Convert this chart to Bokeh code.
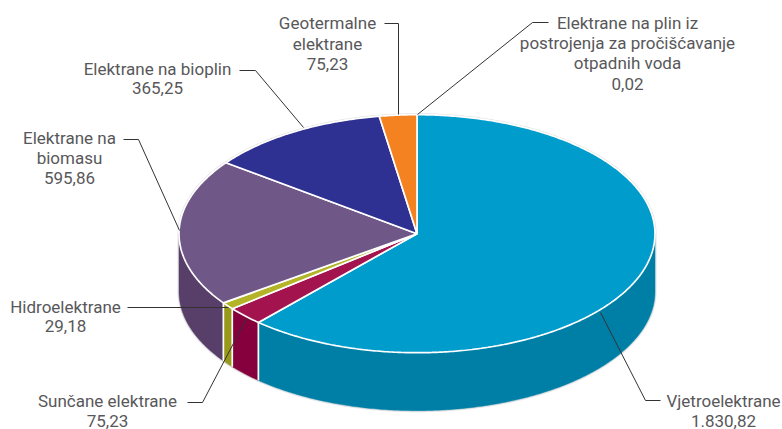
import numpy as np
from bokeh.plotting import figure
from bokeh.models import Range1d
from bokeh.core.properties import value
from bokeh.embed import file_html
from bokeh.resources import INLINE

names = ["Vjetroelektrane", "Sunčane elektrane", "Hidroelektrane", "Elektrane na biomasu",
         "Elektrane na bioplin", "Geotermalne elektrane",
         "Elektrane na plin iz postrojenja za pročišćavanje otpadnih voda"]
values = [1830.82, 75.23, 29.18, 595.86, 365.25, 75.23, 0.02]
top_colors = ["#009dcc", "#a3144f", "#b4b428", "#6f5788", "#2e3192", "#f58220", "#f58220"]
side_colors = ["#007fa6", "#85003c", "#98981a", "#573f69", "#232675", "#c96a15", "#c96a15"]

W, H = 782, 429
CX, CY, RX, RY, DEPTH = 416.5, 233.2, 238.0, 119.0, 58.0
FONT = "Roboto"
FS = "17px"
TEXT = "#58585a"
LINE = "#333333"

p = figure(width=W, height=H, output_backend="svg", toolbar_location=None,
           x_range=Range1d(0, W), y_range=Range1d(H, 0),
           min_border=0, outline_line_color=None, background_fill_color="white")
p.axis.visible = False
p.grid.visible = False


def arc(a0, a1, n=None):
    n = n or max(2, int(abs(a1 - a0) / 0.01))
    t = np.linspace(a0, a1, n)
    return CX + RX * np.sin(t), CY - RY * np.cos(t)


edges = np.concatenate([[0], np.cumsum(values)]) / sum(values) * 2 * np.pi

# soft halo round the silhouette
hx, hy = arc(np.pi / 2, 3 * np.pi / 2)
tx, ty = arc(-np.pi / 2, np.pi / 2)
p.patch(list(hx) + list(hx[::-1]), list(hy + DEPTH) + list(hy[::-1]), fill_color="#e4e4e6",
        line_color="#e4e4e6", line_width=3)
p.patch(list(tx), list(ty), fill_color="#e4e4e6", line_color="#e4e4e6", line_width=3)

# side walls (front half only)
for i in range(len(values)):
    a0, a1 = max(edges[i], np.pi / 2), min(edges[i + 1], 3 * np.pi / 2)
    if a1 <= a0:
        continue
    x, y = arc(a0, a1)
    xs = list(x) + list(x[::-1])
    ys = list(y) + list((y + DEPTH)[::-1])
    p.patch(xs, ys, fill_color=side_colors[i], line_color=side_colors[i], line_width=0.5)
    if edges[i] > np.pi / 2:
        p.line([x[0], x[0]], [y[0], y[0] + DEPTH], line_color="white", line_width=1.7)

# top face
for i in range(len(values)):
    if values[i] / sum(values) < 0.001:
        continue
    x, y = arc(edges[i], edges[i + 1])
    p.patch([CX] + list(x), [CY] + list(y), fill_color=top_colors[i], line_color="white", line_width=1.7)

# leader lines
leaders = [
    ([384, 398, 398], [23, 23, 114]),
    ([548, 532, 417], [22, 22, 114]),
    ([239, 255, 303], [70, 70, 127]),
    ([123, 138, 179], [139, 139, 230]),
    ([127, 228], [307, 307]),
    ([187, 202, 246], [402, 402, 318]),
    ([600, 645, 660], [312, 400, 400]),
]
for lx, ly in leaders:
    p.line(lx, ly, line_color=LINE, line_width=1.0)

# labels
labels = [
    (327, [22, 43, 63], ["Geotermalne", "elektrane", "75,23"]),
    (627, [22, 42, 62, 83], ["Elektrane na plin iz", "postrojenja za pročišćavanje", "otpadnih voda", "0,02"]),
    (157, [68, 87], ["Elektrane na bioplin", "365,25"]),
    (69, [137, 157, 177], ["Elektrane na", "biomasu", "595,86"]),
    (65, [306, 325], ["Hidroelektrane", "29,18"]),
    (107, [400, 420], ["Sunčane elektrane", "75,23"]),
    (723, [400, 420], ["Vjetroelektrane", "1.830,82"]),
]
for cx, ys, lines in labels:
    p.text([cx] * len(lines), ys, text=lines, text_font=value(FONT), text_font_size=value(FS),
           text_color=TEXT, text_align="center", text_baseline="middle")

open("out.html", "w").write(file_html(p, INLINE))
